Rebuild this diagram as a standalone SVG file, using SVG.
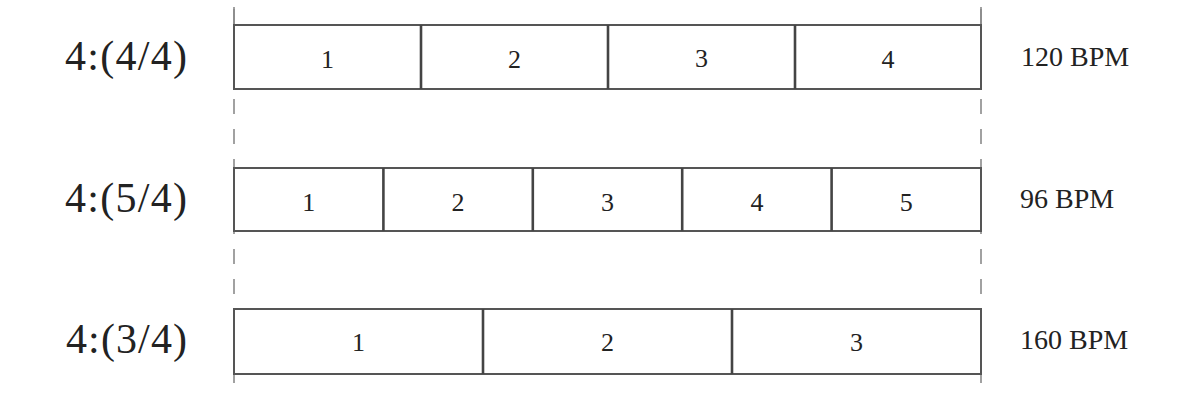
<svg xmlns="http://www.w3.org/2000/svg" width="1200" height="402" viewBox="0 0 1200 402">
<style>
.guide{stroke:#8a8a8a;stroke-width:1.6;stroke-dasharray:15 15;fill:none}
.box{fill:#fff;stroke:#555;stroke-width:2}
.div{stroke:#444;stroke-width:2.6}
.lbl{font-family:"Liberation Serif",serif;font-size:42px;fill:#222}
.bpm{font-family:"Liberation Serif",serif;font-size:28px;fill:#222}
.num{font-family:"Liberation Serif",serif;font-size:26px;fill:#222;text-anchor:middle}
</style>
<rect width="1200" height="402" fill="#fff"/>
<g id="connectors">
<line class="guide" x1="234" y1="7" x2="234" y2="383" stroke-dashoffset="-2"/>
<line class="guide" x1="981" y1="7" x2="981" y2="383" stroke-dashoffset="-2"/>
<line class="guide" x1="234" y1="7" x2="234" y2="25" style="stroke-dasharray:none"/>
<line class="guide" x1="981" y1="7" x2="981" y2="25" style="stroke-dasharray:none"/>
</g>
<g id="row1">
<text class="lbl" x="65" y="70" textLength="122">4:(4/4)</text>
<rect class="box" x="234" y="25" width="747" height="64"/>
<line class="div" x1="421" y1="25" x2="421" y2="89"/>
<line class="div" x1="608" y1="25" x2="608" y2="89"/>
<line class="div" x1="795" y1="25" x2="795" y2="89"/>
<text class="num" x="327.5" y="68">1</text>
<text class="num" x="514.5" y="68">2</text>
<text class="num" x="701.5" y="67">3</text>
<text class="num" x="888" y="68">4</text>
<text class="bpm" x="1021" y="66">120 BPM</text>
</g>
<g id="row2">
<text class="lbl" x="65" y="212" textLength="122">4:(5/4)</text>
<rect class="box" x="234" y="168" width="747" height="63"/>
<line class="div" x1="383.4" y1="168" x2="383.4" y2="231"/>
<line class="div" x1="532.8" y1="168" x2="532.8" y2="231"/>
<line class="div" x1="682.2" y1="168" x2="682.2" y2="231"/>
<line class="div" x1="831.6" y1="168" x2="831.6" y2="231"/>
<text class="num" x="308.7" y="211">1</text>
<text class="num" x="458.1" y="211">2</text>
<text class="num" x="607.5" y="211">3</text>
<text class="num" x="756.9" y="211">4</text>
<text class="num" x="906.3" y="211">5</text>
<text class="bpm" x="1020" y="208">96 BPM</text>
</g>
<g id="row3">
<text class="lbl" x="66" y="353" textLength="121">4:(3/4)</text>
<rect class="box" x="234" y="309" width="747" height="65"/>
<line class="div" x1="483" y1="309" x2="483" y2="374"/>
<line class="div" x1="732" y1="309" x2="732" y2="374"/>
<text class="num" x="358.5" y="351">1</text>
<text class="num" x="607.5" y="351">2</text>
<text class="num" x="856.5" y="351">3</text>
<text class="bpm" x="1020" y="349">160 BPM</text>
</g>
</svg>
